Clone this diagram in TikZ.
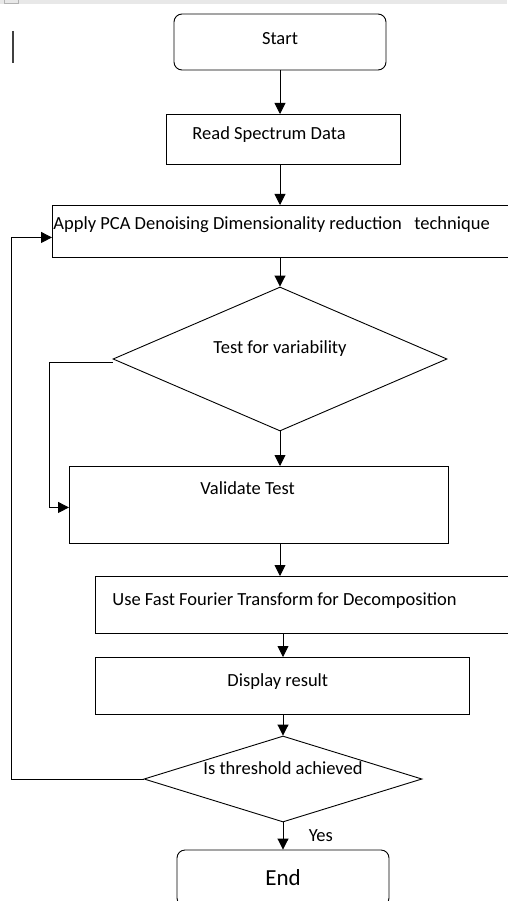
\documentclass[tikz,border=0pt]{standalone}
\usepackage{fontspec}
\setmainfont{Carlito}
\usetikzlibrary{positioning,shapes.geometric,arrows.meta}

\begin{document}
\begin{tikzpicture}[x=1pt,y=1pt,
  line width=0.9pt,
  every node/.style = {font=\fontsize{18.5}{21}\selectfont},
  procbox/.style = {draw, rectangle, anchor=north west, align=flush left,
                    inner ysep=2pt, text height=13.5pt},
  termbox/.style = {draw, rectangle, rounded corners=8pt,
                    minimum width=212pt, minimum height=56pt},
  decision/.style = {draw, diamond, inner sep=0pt, text height=13.5pt},
  flow/.style = {-{Triangle[width=11pt,length=11pt]}}]
\useasboundingbox (0,0) rectangle (507,-901);

% page edge left over from the screenshot
\fill[gray!18] (0,0) rectangle (507,-4);
\draw[gray!60, line width=1pt] (4,0) -- (4,-3.5) -- (18,-3.5) -- (18,0);
\draw[black!75, line width=1.6pt] (13,-31) -- (13,-63);

\node[termbox, text depth=6pt] (start) at (280,-42) {Start};
\node[procbox, minimum width=234pt, minimum height=50pt,
      inner xsep=26pt, text width=182pt, text depth=14pt]
      (read) at (166,-114) {Read Spectrum Data};
\node[procbox, minimum width=463pt, minimum height=52pt,
      inner xsep=1pt, text width=461pt, text depth=18pt]
      (apply) at (52,-205) {Apply PCA Denoising Dimensionality reduction\ \ \ technique};
\node[decision, minimum width=334pt, minimum height=144pt,
      shape aspect=2.32, text depth=24pt] (test) at (280,-359) {Test for variability};
\node[procbox, minimum width=379pt, minimum height=77pt,
      inner xsep=131pt, text width=117pt, text depth=35pt]
      (validate) at (69,-466) {Validate Test};
\node[procbox, minimum width=420pt, minimum height=57pt,
      inner xsep=17pt, text width=386pt, text depth=13pt]
      (fft) at (95,-576) {Use Fast Fourier Transform for Decomposition};
\node[procbox, minimum width=374pt, minimum height=57pt,
      inner xsep=132pt, text width=110pt, text depth=13pt]
      (display) at (95,-657) {Display result};
\node[decision, minimum width=278pt, minimum height=86pt,
      shape aspect=3.23, text depth=22pt] (thresh) at (283,-779) {Is threshold achieved};
\node[termbox, font=\fontsize{23}{26}\selectfont] (end) at (283,-878) {End};

\draw[flow] (start.south) -- (start.south |- read.north);
\draw[flow] (start.south |- read.south) -- (start.south |- apply.north);
\draw[flow] (test.north |- apply.south) -- (test.north);
\draw[flow] (test.south) -- (test.south |- validate.north);
\draw[flow] ([yshift=-3pt]test.west) -- ++(-63,0) |- ([yshift=-2.5pt]validate.west);
\draw[flow] (test.south |- validate.south) -- (test.south |- fft.north);
\draw[flow] (thresh.north |- fft.south) -- (thresh.north |- display.north);
\draw[flow] (thresh.north |- display.south) -- (thresh.north);
\draw[flow] (thresh.south) -- (end.north)
  node[midway, anchor=west, xshift=22pt] {Yes};
\draw[flow] (thresh.west) -- ++(-132,0) |- ([yshift=-6pt]apply.west);
\end{tikzpicture}
\end{document}
